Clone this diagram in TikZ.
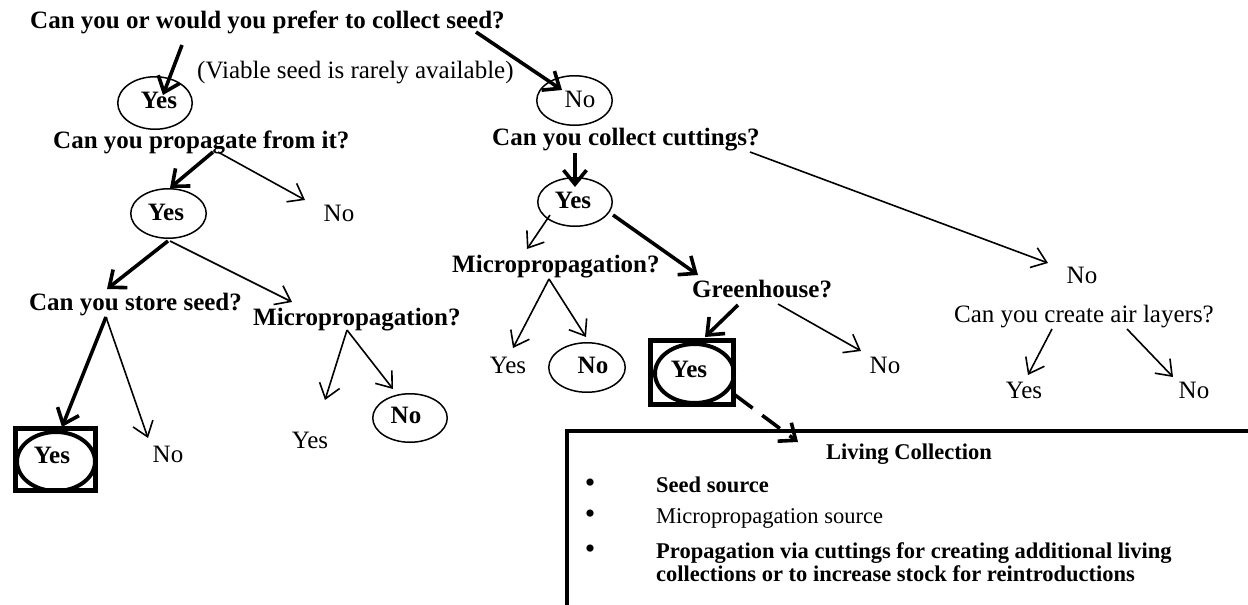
\documentclass[tikz,border=0pt]{standalone}
\usepackage{fontspec}
\setmainfont{Liberation Serif}
\usetikzlibrary{arrows.meta,shapes.geometric}

\tikzset{
  bq/.style={font=\fontsize{25}{30}\selectfont\bfseries, inner sep=0pt},
  rq/.style={font=\fontsize{25}{30}\selectfont, inner sep=0pt},
  bx/.style={font=\fontsize{22.5}{27}\selectfont\bfseries, inner sep=0pt},
  rx/.style={font=\fontsize{22.5}{27}\selectfont, inner sep=0pt},
  dot/.style={font=\fontsize{30}{30}\selectfont, inner sep=0pt},
  oval/.style={ellipse, draw, line width=1.5pt, inner sep=0pt},
  heavyoval/.style={ellipse, draw, line width=4pt, inner sep=0pt},
  framebox/.style={rectangle, draw, line width=5pt, inner sep=0pt},
  lightarr/.style={line width=1.6pt, -{Straight Barb[length=14pt,width=21pt]}},
  heavyarr/.style={line width=3.6pt, -{Straight Barb[length=14pt,width=23pt]}},
  dasharr/.style={line width=3.6pt, dash pattern=on 22pt off 12pt, -{Straight Barb[length=14pt,width=23pt]}},
}

\begin{document}
\begin{tikzpicture}[x=1pt, y=-1pt]
\useasboundingbox (0,0) rectangle (1248,605);
\fill[white] (0,0) rectangle (1248,605);
\clip (0,0) rectangle (1248,605);

% questions
\node[bq, anchor=base west] (q0) at (30,28) {Can you or would you prefer to collect seed?};
\node[rq, anchor=base west] (note) at (197,78) {(Viable seed is rarely available)};
\node[bq, anchor=base west] (q1) at (53,148) {Can you propagate from it?};
\node[bq, anchor=base west] (q2) at (29,310) {Can you store seed?};
\node[bq, anchor=base west] (q3) at (253,325) {Micropropagation?};
\node[bq, anchor=base west] (q4) at (492,145) {Can you collect cuttings?};
\node[bq, anchor=base west] (q5) at (452,272) {Micropropagation?};
\node[bq, anchor=base west] (q6) at (692,297) {Greenhouse?};
\node[rq, anchor=base] (q7) at (1084,322) {Can you create air layers?};

% circled answers
\node[oval, minimum width=74.5pt, minimum height=52.5pt] (e1) at (155,103) {};
\node[bq, anchor=base] at (159,108) {Yes};
\node[oval, minimum width=75.5pt, minimum height=49.5pt] (e2) at (574.5,100.5) {};
\node[rq, anchor=base] at (580,107) {No};
\node[oval, minimum width=75.5pt, minimum height=49.5pt] (e3) at (168.5,213.5) {};
\node[bq, anchor=base] at (166,220) {Yes};
\node[oval, minimum width=74.5pt, minimum height=48.5pt] (e4) at (575,202) {};
\node[bq, anchor=base] at (573,208) {Yes};
\node[oval, minimum width=74.5pt, minimum height=48.5pt] (e5) at (410,418) {};
\node[bq, anchor=base] at (406,423) {No};
\node[oval, minimum width=76.5pt, minimum height=49.5pt] (e6) at (587,367.5) {};
\node[bq, anchor=base] at (593,373) {No};

% framed answers
\node[framebox, minimum width=80pt, minimum height=62pt] (b1) at (55.5,459.5) {};
\node[heavyoval, minimum width=78pt, minimum height=59pt] (b1e) at (56,461.5) {};
\node[bq, anchor=base] at (52,463) {Yes};
\node[framebox, minimum width=83pt, minimum height=64pt] (b2) at (692,372.5) {};
\node[heavyoval, minimum width=79pt, minimum height=59pt] (b2e) at (694.5,373.5) {};
\node[bq, anchor=base] at (689,377) {Yes};

% plain answers
\node[rq, anchor=base] (n1) at (339,221) {No};
\node[rq, anchor=base] (n2) at (168,462) {No};
\node[rq, anchor=base] (y2) at (310,448) {Yes};
\node[rq, anchor=base] (y3) at (508,373) {Yes};
\node[rq, anchor=base] (n3) at (885,373) {No};
\node[rq, anchor=base] (n4) at (1082,283) {No};
\node[rq, anchor=base] (y4) at (1024,398) {Yes};
\node[rq, anchor=base] (n5) at (1194,398) {No};

% living collection panel
\node[rectangle, draw, line width=4pt, outer sep=0pt, anchor=north west,
      minimum width=760pt, minimum height=240pt] (lc) at (567,431) {};
\node[bx, anchor=base] (lct) at (909,459) {Living Collection};
\node[dot, anchor=base] (d1) at (590,492) {\textbullet};
\node[dot, anchor=base] (d2) at (590,523) {\textbullet};
\node[dot, anchor=base] (d3) at (590,558) {\textbullet};
\node[bx, anchor=base west] (l1) at (656,492) {Seed source};
\node[rx, anchor=base west] (l2) at (656,523) {Micropropagation source};
\node[bx, anchor=base west] (l3) at (656,558) {Propagation via cuttings for creating additional living};
\node[bx, anchor=base west] (l4) at (656,581) {collections or to increase stock for reintroductions};

% connectors
\draw[heavyarr] ([shift={(152,17)}]q0.base west) -- ([shift={(8,-8)}]e1.center);
\draw[heavyarr] ([shift={(446,4)}]q0.base west) -- ([shift={(-12.5,-10.5)}]e2.center);
\draw[heavyarr] ([shift={(160,4)}]q1.base west) -- ([shift={(1.5,-25.5)}]e3.center);
\draw[lightarr] ([shift={(165,4)}]q1.base west) -- ([shift={(-34,-21)}]n1.base);
\draw[heavyarr] ([shift={(-0.5,27.5)}]e3.center) -- ([shift={(78,-21)}]q2.base west);
\draw[lightarr] ([shift={(1.5,27.5)}]e3.center) -- ([shift={(39,-23)}]q3.base west);
\draw[heavyarr] ([shift={(77,7)}]q2.base west) -- ([shift={(6.5,-32.5)}]b1.center);
\draw[lightarr] ([shift={(77,7)}]q2.base west) -- ([shift={(-20,-24)}]n2.base);
\draw[lightarr] ([shift={(94,5)}]q3.base west) -- ([shift={(15,-48)}]y2.base);
\draw[lightarr] ([shift={(94,5)}]q3.base west) -- ([shift={(-17,-29)}]e5.center);
\draw[heavyarr] ([shift={(83,8)}]q4.base west) -- ([shift={(0,-15)}]e4.center);
\draw[lightarr] ([shift={(-25,13)}]e4.center) -- ([shift={(75,-23)}]q5.base west);
\draw[heavyarr] ([shift={(38,13)}]e4.center) -- ([shift={(6,-22)}]q6.base west);
\draw[lightarr] ([shift={(258,7)}]q4.base west) -- ([shift={(-34,-20)}]n4.base);
\draw[lightarr] ([shift={(97,7)}]q5.base west) -- ([shift={(5,-25)}]y3.base);
\draw[lightarr] ([shift={(97,7)}]q5.base west) -- ([shift={(-1,-30.5)}]e6.center);
\draw[heavyarr] ([shift={(46,8)}]q6.base west) -- ([shift={(13,-35.5)}]b2.center);
\draw[lightarr] ([shift={(86,7)}]q6.base west) -- ([shift={(-24,-22)}]n3.base);
\draw[lightarr] ([shift={(-32,7)}]q7.base) -- ([shift={(4,-23)}]y4.base);
\draw[lightarr] ([shift={(43,7)}]q7.base) -- ([shift={(-21,-21)}]n5.base);
\draw[dasharr] ([shift={(43,22.5)}]b2.center) -- ([shift={(-111,-17)}]lct.base);
\end{tikzpicture}
\end{document}
